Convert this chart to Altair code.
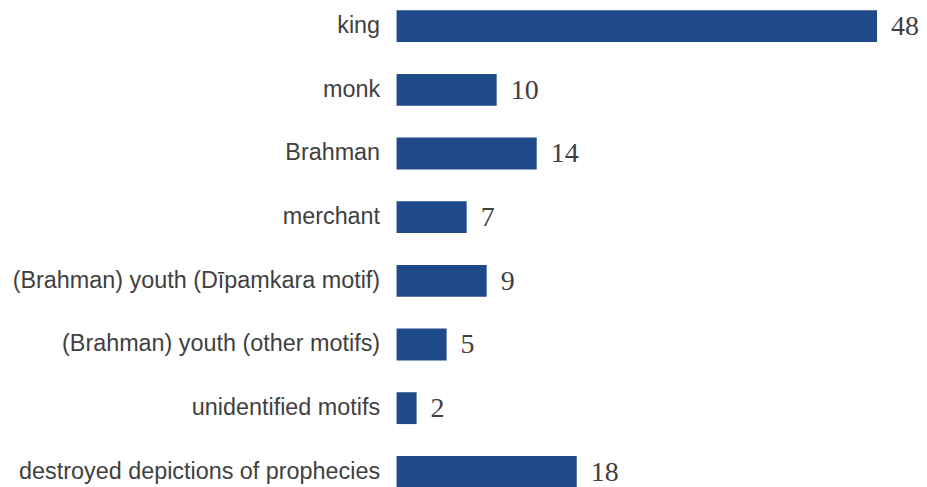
import altair as alt
import pandas as pd

categories = [
    "king",
    "monk",
    "Brahman",
    "merchant",
    "(Brahman) youth (Dīpaṃkara motif)",
    "(Brahman) youth (other motifs)",
    "unidentified motifs",
    "destroyed depictions of prophecies",
]
counts = [48, 10, 14, 7, 9, 5, 2, 18]

df = pd.DataFrame({"category": categories, "count": counts})

BAR = "#1f4a89"
TXT = "#404040"

y_axis = alt.Axis(
    domain=False,
    ticks=False,
    tickSize=0,
    grid=False,
    labelPadding=17,
    labelFont="Liberation Sans",
    labelFontSize=23.4,
    labelColor=TXT,
    labelLimit=600,
)
y_enc = alt.Y(
    "category:N",
    sort=categories,
    title=None,
    scale=alt.Scale(paddingInner=0.5, paddingOuter=0),
    axis=y_axis,
)
x_enc = alt.X(
    "count:Q",
    title=None,
    scale=alt.Scale(domain=[0, 48], nice=False),
    axis=None,
)

bars = alt.Chart(df).mark_bar(color=BAR).encode(y=y_enc, x=x_enc)
labels = alt.Chart(df).mark_text(
    align="left",
    baseline="middle",
    dx=14,
    dy=1,
    font="Liberation Serif",
    fontSize=28,
    color=TXT,
).encode(y=y_enc, x=x_enc, text="count:Q")

chart = (
    alt.layer(bars, labels)
    .properties(
        width=481,
        height=478,
        background="white",
        padding={"left": 389, "top": 2, "right": 42, "bottom": 0},
        autosize=alt.AutoSizeParams(type="none"),
    )
    .configure_view(strokeWidth=0, stroke=None)
)

chart.save("out.html", embed_options={"renderer": "svg", "actions": False})
